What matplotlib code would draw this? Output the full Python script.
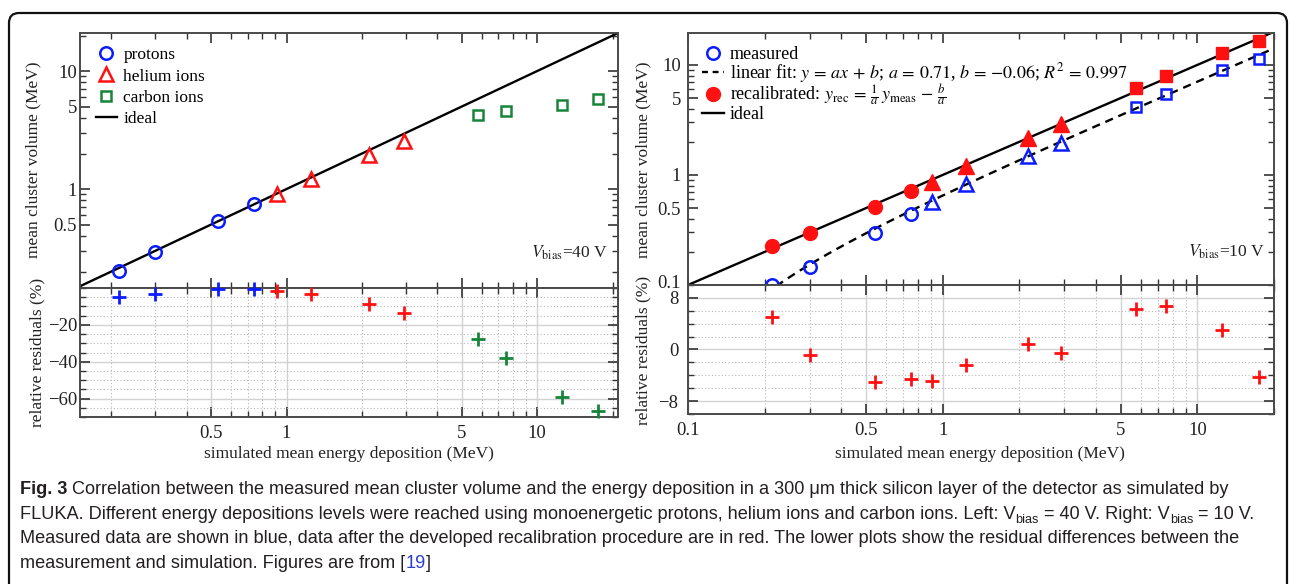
import matplotlib
matplotlib.use("Agg")
import matplotlib.pyplot as plt
import numpy as np
from matplotlib.lines import Line2D
from matplotlib.patches import FancyBboxPatch
from matplotlib.ticker import FixedLocator, FuncFormatter, NullFormatter
from matplotlib.transforms import IdentityTransform, ScaledTranslation

plt.rcParams["font.family"] = ["Liberation Serif", "DejaVu Serif"]
plt.rcParams["mathtext.fontset"] = "stix"

BLUE = "#0b1cff"
RED = "#ff1111"
GREEN = "#16853a"

# left: V_bias = 40 V
proton_x = [0.215, 0.30, 0.535, 0.745]
proton_y = [0.204, 0.291, 0.532, 0.741]
helium_x = [0.92, 1.25, 2.13, 2.94]
helium_y = [0.905, 1.21, 1.95, 2.55]
carbon_x = [5.8, 7.5, 12.6, 17.4]
carbon_y = [4.2, 4.6, 5.15, 5.8]
proton_res = [-5.0, -3.0, -0.5, -0.5]
helium_res = [-1.5, -3.0, -8.5, -13.5]
carbon_res = [-27.5, -38.0, -59.0, -66.5]

# right: V_bias = 10 V
circ_x = [0.214, 0.30, 0.54, 0.75]
tri_x = [0.91, 1.23, 2.16, 2.92]
sq_x = [5.75, 7.5, 12.5, 17.4]
meas_circ = [0.099, 0.146, 0.297, 0.44]
meas_tri = [0.57, 0.83, 1.49, 1.95]
meas_sq = [4.15, 5.45, 9.0, 11.4]
rec_circ = [0.225, 0.297, 0.512, 0.716]
rec_tri = [0.865, 1.20, 2.18, 2.905]
rec_sq = [6.11, 8.01, 12.9, 16.65]
res_circ = [5.0, -0.9, -5.1, -4.6]
res_tri = [-4.9, -2.4, 0.9, -0.5]
res_sq = [6.3, 6.8, 3.1, -4.3]
fit_a, fit_b = 0.71, -0.06

W, H = 1290, 584
fig = plt.figure(figsize=(W / 100, H / 100), dpi=100)


def box(x0, y0, x1, y1):
    # pixel box (top-left origin) -> figure fraction
    return [x0 / W, 1 - y1 / H, (x1 - x0) / W, (y1 - y0) / H]


def log_minor(lo, hi, majors):
    vals = []
    for dec in [0.1, 1, 10]:
        for m in range(1, 10):
            v = round(m * dec, 3)
            if lo <= v <= hi and v not in majors:
                vals.append(v)
    return vals


def style(ax, xmaj, xlim, ymaj=None, ymin=None, xlabels=False, ylabels=None, ypad=2):
    for s in ax.spines.values():
        s.set_color("#4a4a4a")
        s.set_linewidth(1.4)
    ax.set_xscale("log")
    ax.set_xlim(*xlim)
    ax.xaxis.set_major_locator(FixedLocator(xmaj))
    ax.xaxis.set_minor_locator(FixedLocator(log_minor(xlim[0], xlim[1], xmaj)))
    ax.xaxis.set_minor_formatter(NullFormatter())
    if xlabels:
        ax.xaxis.set_major_formatter(FuncFormatter(lambda v, p: "%g" % v))
    else:
        ax.xaxis.set_major_formatter(NullFormatter())
    if ymaj is not None:
        ax.yaxis.set_major_locator(FixedLocator(ymaj))
        ax.yaxis.set_minor_locator(FixedLocator(ymin))
        ax.yaxis.set_minor_formatter(NullFormatter())
        ax.yaxis.set_major_formatter(FuncFormatter(lambda v, p: ylabels.get(v, "")))
    ax.tick_params(which="both", direction="in", top=True, right=True,
                   colors="#333333", labelcolor="#222222", labelsize=13.5)
    ax.tick_params(which="major", length=7, width=1.2)
    ax.tick_params(which="minor", length=4, width=1.0)
    ax.tick_params(axis="y", pad=ypad)
    ax.tick_params(axis="x", pad=6)


def res_grid(ax):
    ax.grid(which="major", color="#d2d2d2", lw=1.0, ls="-")
    ax.grid(which="minor", color="#b8b8b8", lw=0.8, ls=(0, (1, 2)))
    ax.set_axisbelow(True)


# ---------------- left panel ----------------
lx = (0.15, 21)
ax1 = fig.add_axes(box(80, 33, 618, 288))
ax1.set_yscale("log")
ax1.set_ylim(0.145, 21)
ymaj = [0.5, 1, 5, 10]
style(ax1, [0.5, 1, 5, 10], lx, ymaj, log_minor(0.145, 21, ymaj),
      ylabels={0.5: "0.5", 1: "1", 5: "5", 10: "10"})
ax1.plot(lx, lx, color="black", lw=1.7, zorder=2)
ax1.plot(proton_x, proton_y, "o", ms=9, mfc="none", mec=BLUE, mew=1.8, zorder=3)
ax1.plot(helium_x, helium_y, "^", ms=10, mfc="none", mec=RED, mew=1.8, zorder=3)
ax1.plot(carbon_x, carbon_y, "s", ms=6.5, mfc="none", mec=GREEN, mew=1.8, zorder=3)
handles = [
    Line2D([], [], ls="none", marker="o", ms=9, mfc="none", mec=BLUE, mew=1.8),
    Line2D([], [], ls="none", marker="^", ms=10, mfc="none", mec=RED, mew=1.8),
    Line2D([], [], ls="none", marker="s", ms=6.5, mfc="none", mec=GREEN, mew=1.8),
    Line2D([], [], color="black", lw=1.7),
]
ax1.legend(handles, ["protons", "helium ions", "carbon ions", "ideal"],
           loc="upper left", bbox_to_anchor=(0.029, 0.945), frameon=False,
           borderpad=0, borderaxespad=0, handlelength=1.25, handletextpad=0.35,
           labelspacing=0.3, fontsize=12.5)
ax1.text(0.982, 0.14, r"$V_{\rm bias}$=40 V", transform=ax1.transAxes,
         ha="right", va="center", fontsize=12.5, color="#222222")

ax2 = fig.add_axes(box(80, 288, 618, 417))
ax2.set_ylim(-70, 0)
style(ax2, [0.5, 1, 5, 10], lx, [-20, -40, -60],
      [v for v in range(-70, 1, 5) if v not in (-20, -40, -60)],
      xlabels=True, ylabels={-20: "\u221220", -40: "\u221240", -60: "\u221260"})
res_grid(ax2)
ax2.plot(proton_x, proton_res, "+", ms=10, mew=2, color=BLUE, clip_on=False, zorder=3)
ax2.plot(helium_x, helium_res, "+", ms=10, mew=2, color=RED, clip_on=False, zorder=3)
ax2.plot(carbon_x, carbon_res, "+", ms=10, mew=2, color=GREEN, clip_on=False, zorder=3)

# ---------------- right panel ----------------
rx = (0.1, 20)
ax3 = fig.add_axes(box(688, 33, 1274, 285))
ax3.set_yscale("log")
ax3.set_ylim(0.1, 19.5)
ymaj = [0.1, 0.5, 1, 5, 10]
style(ax3, [0.1, 0.5, 1, 5, 10], rx, ymaj, log_minor(0.1, 19.5, ymaj),
      ylabels={0.1: "0.1", 0.5: "0.5", 1: "1", 5: "5", 10: "10"}, ypad=5)
# nudge the bottom "0.1" label up so it clears the residual "8"
lbl = ax3.yaxis.get_major_ticks()[0].label1
lbl.set_transform(lbl.get_transform() + ScaledTranslation(0, 3 / 100, fig.dpi_scale_trans))
ax3.plot(rx, rx, color="black", lw=1.7, zorder=2)
fx = np.logspace(np.log10(0.2), np.log10(20), 100)
ax3.plot(fx, fit_a * fx + fit_b, color="black", lw=1.7, ls=(0, (3.5, 2.5)), zorder=2)
ax3.plot(circ_x, meas_circ, "o", ms=9, mfc="none", mec=BLUE, mew=1.8, zorder=3)
ax3.plot(tri_x, meas_tri, "^", ms=10, mfc="none", mec=BLUE, mew=1.8, zorder=3)
ax3.plot(sq_x, meas_sq, "s", ms=6.5, mfc="none", mec=BLUE, mew=1.8, zorder=3)
ax3.plot(circ_x, rec_circ, "o", ms=10, color=RED, zorder=3)
ax3.plot(tri_x, rec_tri, "^", ms=11, color=RED, zorder=3)
ax3.plot(sq_x, rec_sq, "s", ms=8, color=RED, zorder=3)
handles = [
    Line2D([], [], ls="none", marker="o", ms=9, mfc="none", mec=BLUE, mew=1.8),
    Line2D([], [], color="black", lw=1.7, ls=(0, (2.5, 2.0))),
    Line2D([], [], ls="none", marker="o", ms=10, color=RED),
    Line2D([], [], color="black", lw=1.7),
]
labels = [
    "measured",
    r"linear fit: $y\,=\,ax\,+\,b$; $a\,=\,0.71$, $b\,=\,{-}0.06$; $R^2\,=\,0.997$",
    r"recalibrated: $y_{\rm rec}\,=\,\frac{1}{a}\,y_{\rm meas}\,-\,\frac{b}{a}$",
    "ideal",
]
ax3.legend(handles, labels, loc="upper left", bbox_to_anchor=(0.024, 0.948),
           frameon=False, borderpad=0, borderaxespad=0, handlelength=1.2,
           handletextpad=0.35, labelspacing=-0.12, fontsize=13)
ax3.text(0.985, 0.13, r"$V_{\rm bias}$=10 V", transform=ax3.transAxes,
         ha="right", va="center", fontsize=12.5, color="#222222")

ax4 = fig.add_axes(box(688, 285, 1274, 414))
ax4.set_ylim(-10, 10)
style(ax4, [0.1, 0.5, 1, 5, 10], rx, [-8, 0, 8],
      [v for v in range(-10, 11, 2) if v not in (-8, 0, 8)],
      xlabels=True, ylabels={-8: "\u22128", 0: "0", 8: "8"}, ypad=7)
res_grid(ax4)
ax4.plot(circ_x, res_circ, "+", ms=10, mew=2, color=RED, zorder=3)
ax4.plot(tri_x, res_tri, "+", ms=10, mew=2, color=RED, zorder=3)
ax4.plot(sq_x, res_sq, "+", ms=10, mew=2, color=RED, zorder=3)

# axis labels
lab = dict(fontsize=12.5, color="#222222", ha="center", va="center")
fig.text(33 / W, 1 - 160 / H, "mean cluster volume (MeV)", rotation=90, **lab)
fig.text(37 / W, 1 - 352 / H, "relative residuals (%)", rotation=90, **lab)
fig.text(643 / W, 1 - 160 / H, "mean cluster volume (MeV)", rotation=90, **lab)
fig.text(643 / W, 1 - 350 / H, "relative residuals (%)", rotation=90, **lab)
fig.text(349 / W, 1 - 454 / H, "simulated mean energy deposition (MeV)", **lab)
fig.text(980 / W, 1 - 454 / H, "simulated mean energy deposition (MeV)", **lab)

# rounded frame
frame = FancyBboxPatch((9, -20), 1278, 591, boxstyle="round,pad=0,rounding_size=10",
                       transform=IdentityTransform(), fill=False, lw=1.6, ec="#111111")
fig.patches.append(frame)

# caption
renderer = fig.canvas.get_renderer()
CAP = ["Liberation Sans", "DejaVu Sans"]
CS = 13.1
INK = "#231f20"


def caption_line(x, y, runs):
    for txt, kw in runs:
        kw = dict(kw)
        dy = kw.pop("dy", 0)
        t = fig.text(x, H - y + dy, txt, transform=IdentityTransform(), family=CAP,
                     va="baseline", ha="left", fontsize=kw.pop("size", CS),
                     color=kw.pop("color", INK), **kw)
        x = t.get_window_extent(renderer).x1


sub = dict(size=CS * 0.7, dy=-4)
caption_line(20, 494, [
    ("Fig. 3", dict(weight="bold")),
    (" Correlation between the measured mean cluster volume and the energy deposition in a 300 \u03bcm "
     "thick silicon layer of the detector as simulated by", {}),
])
caption_line(20, 519, [
    ("FLUKA. Different energy depositions levels were reached using monoenergetic protons, helium ions "
     "and carbon ions. Left: V", {}),
    ("bias", sub),
    (" = 40 V. Right: V", {}),
    ("bias", sub),
    (" = 10 V.", {}),
])
caption_line(20, 543, [
    ("Measured data are shown in blue, data after the developed recalibration procedure are in red. "
     "The lower plots show the residual differences between the", {}),
])
caption_line(20, 568, [
    ("measurement and simulation. Figures are from [", {}),
    ("19", dict(color="#2a3fd0")),
    ("]", {}),
])

fig.savefig("out.png", dpi=100)
